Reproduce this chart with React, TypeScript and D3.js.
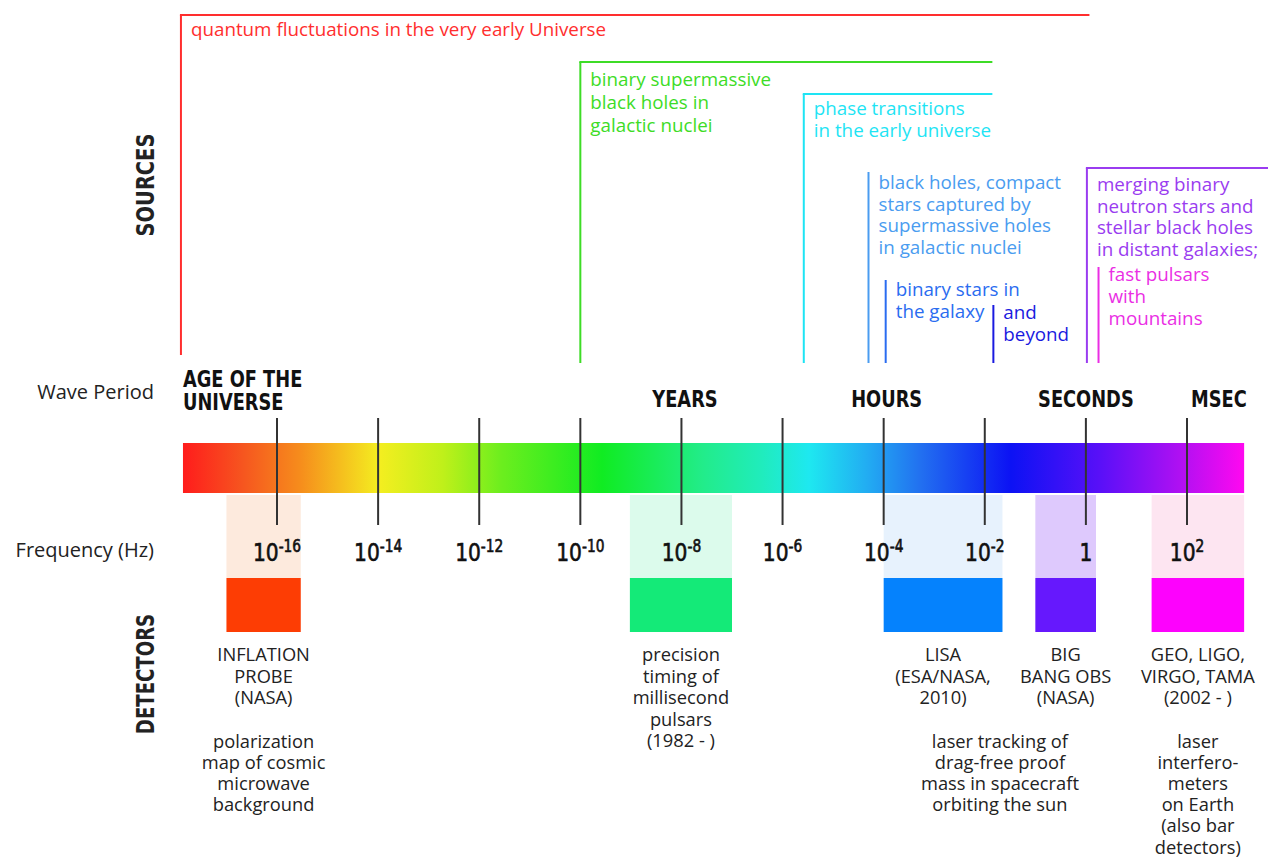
import React from "react";
import * as d3 from "d3";

// ---------- data ----------
const tickExponents = [-16, -14, -12, -10, -8, -6, -4, -2, 0, 2];
const spectrumRange = [-17.86, 3.13];

const periodLabels = [
  { lines: ["AGE OF THE", "UNIVERSE"], log: -17.86, anchor: "start" },
  { lines: ["YEARS"], log: -7.93, anchor: "middle" },
  { lines: ["HOURS"], log: -3.94, anchor: "middle" },
  { lines: ["SECONDS"], log: 0.0, anchor: "middle" },
  { lines: ["MSEC"], log: 2.63, anchor: "middle" },
];

const gradientStops = [
  { o: 0, c: "#ff1c1c" },
  { o: 0.055, c: "#f6541f" },
  { o: 0.11, c: "#f68c1c" },
  { o: 0.185, c: "#f4ee20" },
  { o: 0.245, c: "#bff01a" },
  { o: 0.3, c: "#6cee1e" },
  { o: 0.395, c: "#10ec22" },
  { o: 0.49, c: "#22ec8a" },
  { o: 0.545, c: "#20ecbc" },
  { o: 0.59, c: "#1ee8f0" },
  { o: 0.645, c: "#22acf2" },
  { o: 0.695, c: "#2270f0" },
  { o: 0.78, c: "#0c12f4" },
  { o: 0.865, c: "#5a10f8" },
  { o: 0.94, c: "#b010f2" },
  { o: 1, c: "#ff08f0" },
];

const detectors = [
  {
    from: -17.0, to: -15.53, light: "#fdeadd", dark: "#fd3d04",
    name: ["INFLATION", "PROBE", "(NASA)"],
    desc: ["polarization", "map of cosmic", "microwave", "background"],
    descAt: null,
  },
  {
    from: -9.02, to: -7.0, light: "#dcfbec", dark: "#14ea78",
    name: ["precision", "timing of", "millisecond", "pulsars", "(1982 - )"],
    desc: [],
    descAt: null,
  },
  {
    from: -4.0, to: -1.65, light: "#e7f2fd", dark: "#0582fd",
    name: ["LISA", "(ESA/NASA,", "2010)"],
    desc: ["laser tracking of", "drag-free proof", "mass in spacecraft", "orbiting the sun"],
    descAt: -1.7,
  },
  {
    from: -1.0, to: 0.2, light: "#dec9fd", dark: "#6618fd",
    name: ["BIG", "BANG OBS", "(NASA)"],
    desc: [],
    descAt: null,
  },
  {
    from: 1.3, to: 3.13, light: "#fde5f1", dark: "#fd02fd",
    name: ["GEO, LIGO,", "VIRGO, TAMA", "(2002 - )"],
    desc: ["laser", "interfero-", "meters", "on Earth", "(also bar", "detectors)"],
    descAt: null,
  },
];

const sources = [
  { text: ["quantum fluctuations in the very early Universe"], from: -17.9, to: 0.07, color: "#ff2e2e" },
  { text: ["binary supermassive", "black holes in", "galactic nuclei"], from: -10.0, to: -1.85, color: "#3ddc26" },
  { text: ["phase transitions", "in the early universe"], from: -5.58, to: -1.85, color: "#1ee4f4" },
  { text: ["black holes, compact", "stars captured by", "supermassive holes", "in galactic nuclei"], from: -4.3, to: null, color: "#4a9cf0" },
  { text: ["binary stars in", "the galaxy"], from: -3.96, to: null, color: "#2a6cf0" },
  { text: ["and", "beyond"], from: -1.83, to: null, color: "#1a1ae0" },
  { text: ["merging binary", "neutron stars and", "stellar black holes", "in distant galaxies;"], from: 0.02, to: 3.7, color: "#9a3cf0" },
  { text: ["fast pulsars", "with", "mountains"], from: 0.25, to: null, color: "#ea2ee4" },
];

// ---------- layout ----------
const W = 1268;
const H = 857;
const sourceTop = [15, 62, 94, 172, 280, 305, 168, 267];
const sourceBottom = [355, 363, 363, 363, 363, 363, 363, 363];
const sourceBaseline = [36, 86, 115, 189, 296, 319, 191, 281];
const sourceStep = [22, 23, 22, 21.5, 21.5, 21.5, 21.7, 22];

const barTop = 443;
const barBottom = 493;
const bandTop = 495;
const boxTop = 578;
const boxBottom = 632;
const textFont = "'Open Sans', Lato, sans-serif";
const condFont = "'DejaVu Sans Condensed', 'DejaVu Sans', sans-serif";
const COND = 0.86;

export default function App() {
  const x = d3.scaleLinear().domain([-16, 2]).range([277, 1187]);

  return (
    <svg
      width={W}
      height={H}
      style={{ position: "absolute", left: 0, top: 0, background: "#fff" }}
    >
      <defs>
        <linearGradient id="spec" x1="0" x2="1" y1="0" y2="0">
          {gradientStops.map((s, i) => (
            <stop key={i} offset={s.o} stopColor={s.c} />
          ))}
        </linearGradient>
      </defs>

      {/* left labels */}
      <text
        transform={`translate(154,185) rotate(-90) scale(0.9,1)`}
        textAnchor="middle"
        fontFamily={condFont}
        fontWeight="bold"
        fontSize={24}
        fill="#222"
      >
        SOURCES
      </text>
      <text
        transform={`translate(154,674) rotate(-90) scale(0.84,1)`}
        textAnchor="middle"
        fontFamily={condFont}
        fontWeight="bold"
        fontSize={24}
        fill="#222"
      >
        DETECTORS
      </text>
      <text x={154} y={399} textAnchor="end" fontFamily={textFont} fontSize={20} fill="#222">
        Wave Period
      </text>
      <text x={154} y={557} textAnchor="end" fontFamily={textFont} fontSize={20} fill="#222">
        Frequency (Hz)
      </text>

      {/* sources */}
      {sources.map((s, i) => {
        const x0 = x(s.from);
        const top = sourceTop[i];
        return (
          <g key={i}>
            <line x1={x0} x2={x0} y1={top} y2={sourceBottom[i]} stroke={s.color} strokeWidth={2} />
            {s.to !== null && (
              <line x1={x0 - 1} x2={Math.min(x(s.to), W)} y1={top} y2={top} stroke={s.color} strokeWidth={2} />
            )}
            <text
              x={x0 + 10}
              y={sourceBaseline[i]}
              fontFamily={textFont}
              fontSize={18.8}
              fill={s.color}
            >
              {s.text.map((t, j) => (
                <tspan key={j} x={x0 + 10} dy={j === 0 ? 0 : sourceStep[i]}>
                  {t}
                </tspan>
              ))}
            </text>
          </g>
        );
      })}

      {/* period labels */}
      {periodLabels.map((p, i) => (
        <text
          key={i}
          transform={`translate(${x(p.log)},${p.lines.length > 1 ? 387 : 407}) scale(${COND},1)`}
          textAnchor={p.anchor}
          fontFamily={condFont}
          fontWeight="bold"
          fontSize={23}
          fill="#111"
        >
          {p.lines.map((l, j) => (
            <tspan key={j} x={0} dy={j === 0 ? 0 : 23}>
              {l}
            </tspan>
          ))}
        </text>
      ))}

      {/* detector light bands */}
      {detectors.map((d, i) => (
        <rect
          key={i}
          x={x(d.from)}
          y={bandTop}
          width={x(d.to) - x(d.from)}
          height={boxTop - bandTop}
          fill={d.light}
        />
      ))}

      {/* spectrum bar */}
      <rect
        x={x(spectrumRange[0])}
        y={barTop}
        width={x(spectrumRange[1]) - x(spectrumRange[0])}
        height={barBottom - barTop}
        fill="url(#spec)"
      />

      {/* ticks */}
      {tickExponents.map((e) => (
        <line key={e} x1={x(e)} x2={x(e)} y1={418} y2={525} stroke="#333" strokeWidth={2} />
      ))}

      {/* frequency labels */}
      {tickExponents.map((e) => (
        <text
          key={e}
          transform={`translate(${x(e)},561) scale(0.9,1)`}
          textAnchor="middle"
          fontFamily={condFont}
          fontSize={25}
          fill="#111"
          stroke="#111"
          strokeWidth={0.6}
        >
          {e === 0 ? (
            "1"
          ) : (
            <>
              10
              <tspan dy={-9} fontSize={17}>
                {e}
              </tspan>
            </>
          )}
        </text>
      ))}

      {/* detector boxes and text */}
      {detectors.map((d, i) => {
        const cx = (x(d.from) + x(d.to)) / 2;
        const dx = d.descAt !== null ? x(d.descAt) : cx;
        return (
          <g key={i}>
            <rect
              x={x(d.from)}
              y={boxTop}
              width={x(d.to) - x(d.from)}
              height={boxBottom - boxTop}
              fill={d.dark}
            />
            <text
              x={cx}
              y={661}
              textAnchor="middle"
              fontFamily={textFont}
              fontSize={18.3}
              fill="#222"
            >
              {d.name.map((t, j) => (
                <tspan key={j} x={cx} dy={j === 0 ? 0 : 21.5}>
                  {t}
                </tspan>
              ))}
            </text>
            {d.desc.length > 0 && (
              <text
                x={dx}
                y={748}
                textAnchor="middle"
                fontFamily={textFont}
                fontSize={18.3}
                fill="#222"
              >
                {d.desc.map((t, j) => (
                  <tspan key={j} x={dx} dy={j === 0 ? 0 : 21.1}>
                    {t}
                  </tspan>
                ))}
              </text>
            )}
          </g>
        );
      })}
    </svg>
  );
}
